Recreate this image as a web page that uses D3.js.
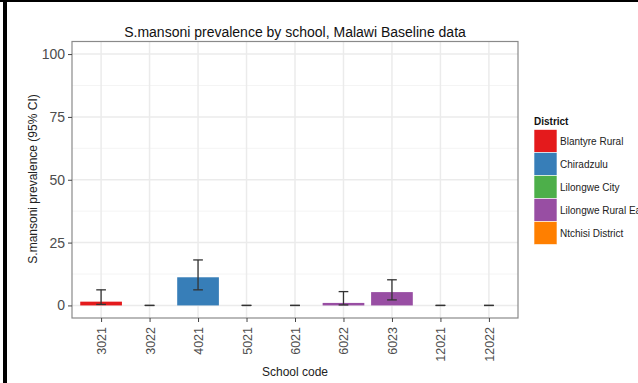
<!DOCTYPE html>
<html>
<head>
<meta charset="utf-8">
<script src="https://cdn.jsdelivr.net/npm/d3@7"></script>
<style>
  html, body { margin: 0; padding: 0; background: #fff; }
  svg { display: block; font-family: "Liberation Sans", Arial, sans-serif; }
</style>
</head>
<body>
<svg id="chart" width="638" height="383"></svg>
<script>
// School-level prevalence estimates with 95% confidence intervals
const schools   = ["3021", "3022", "4021", "5021", "6021", "6022", "6023", "12021", "12022"];
const district  = ["Blantyre Rural", "Blantyre Rural", "Chiradzulu", "Chiradzulu", "Lilongwe City",
                   "Lilongwe Rural East", "Lilongwe Rural East", "Ntchisi District", "Ntchisi District"];
const prevalence = [1.5, 0, 11.2, 0, 0, 1.0, 5.3, 0, 0];
const ciLower    = [0.4, 0, 6.2, 0, 0, 0.2, 2.2, 0, 0];
const ciUpper    = [6.2, 0, 18.1, 0, 0, 5.5, 10.2, 0, 0];

const districts = ["Blantyre Rural", "Chiradzulu", "Lilongwe City", "Lilongwe Rural East", "Ntchisi District"];
const palette   = ["#E41A1C", "#377EB8", "#4DAF4A", "#984EA3", "#FF7F00"];
const yTicks    = [0, 25, 50, 75, 100];
const yMinor    = [12.5, 37.5, 62.5, 87.5];

const svg = d3.select("#chart");

// outer frame (black rule along top and left)
svg.append("rect").attr("x", 0).attr("y", 0).attr("width", 638).attr("height", 2).attr("fill", "#000");
svg.append("rect").attr("x", 3).attr("y", 0).attr("width", 4).attr("height", 383).attr("fill", "#000");

const panel = { left: 72, top: 41.5, right: 518, bottom: 318 };

const y = d3.scaleLinear().domain([-5, 105]).range([panel.bottom, panel.top]);

// discrete axis with ggplot-style 0.6 expansion on both sides
const step = (panel.right - panel.left) / (schools.length - 1 + 1.2);
const x = d3.scalePoint().domain(schools)
  .range([panel.left + 0.6 * step, panel.right - 0.6 * step]);
const barW = step * 0.86;
const whisker = step * 0.2;

const color = d3.scaleOrdinal().domain(districts).range(palette);

// panel background and grid
const g = svg.append("g");
g.append("rect").attr("x", panel.left).attr("y", panel.top)
  .attr("width", panel.right - panel.left).attr("height", panel.bottom - panel.top)
  .attr("fill", "#fff");

g.selectAll(".minor").data(yMinor).enter().append("line")
  .attr("x1", panel.left).attr("x2", panel.right)
  .attr("y1", d => y(d)).attr("y2", d => y(d))
  .attr("stroke", "#F4F4F4").attr("stroke-width", 1);

g.selectAll(".hmajor").data(yTicks).enter().append("line")
  .attr("x1", panel.left).attr("x2", panel.right)
  .attr("y1", d => y(d)).attr("y2", d => y(d))
  .attr("stroke", "#EBEBEB").attr("stroke-width", 1.5);

g.selectAll(".vmajor").data(schools).enter().append("line")
  .attr("x1", d => x(d)).attr("x2", d => x(d))
  .attr("y1", panel.top).attr("y2", panel.bottom)
  .attr("stroke", "#EBEBEB").attr("stroke-width", 1.5);

// bars
const rows = schools.map((s, i) => ({ s, d: district[i], v: prevalence[i], lo: ciLower[i], hi: ciUpper[i] }));

g.selectAll(".bar").data(rows).enter().append("rect")
  .attr("x", d => x(d.s) - barW / 2)
  .attr("width", barW)
  .attr("y", d => y(Math.max(d.v, 0)))
  .attr("height", d => y(0) - y(d.v))
  .attr("fill", d => color(d.d));

// error bars
const eb = g.selectAll(".eb").data(rows).enter().append("g")
  .attr("stroke", "#333").attr("stroke-width", 1.3);
eb.append("line").attr("x1", d => x(d.s)).attr("x2", d => x(d.s))
  .attr("y1", d => y(d.lo)).attr("y2", d => y(d.hi));
eb.append("line").attr("x1", d => x(d.s) - whisker / 2).attr("x2", d => x(d.s) + whisker / 2)
  .attr("y1", d => y(d.hi)).attr("y2", d => y(d.hi));
eb.append("line").attr("x1", d => x(d.s) - whisker / 2).attr("x2", d => x(d.s) + whisker / 2)
  .attr("y1", d => y(d.lo)).attr("y2", d => y(d.lo));

// panel border
g.append("rect").attr("x", panel.left).attr("y", panel.top)
  .attr("width", panel.right - panel.left).attr("height", panel.bottom - panel.top)
  .attr("fill", "none").attr("stroke", "#8A8A8A").attr("stroke-width", 1.2);

// axes
const yAxis = svg.append("g").attr("transform", `translate(${panel.left},0)`)
  .call(d3.axisLeft(y).tickValues(yTicks).tickSize(4).tickPadding(3));
yAxis.select(".domain").remove();
yAxis.selectAll(".tick line").attr("stroke", "#444");
yAxis.selectAll(".tick text").attr("fill", "#4D4D4D")
  .style("font-size", "14px").style("font-family", "'Liberation Sans', Arial, sans-serif");

const xAxis = svg.append("g").attr("transform", `translate(0,${panel.bottom})`)
  .call(d3.axisBottom(x).tickSize(4).tickPadding(3));
xAxis.select(".domain").remove();
xAxis.selectAll(".tick line").attr("stroke", "#444");
xAxis.selectAll(".tick text")
  .attr("fill", "#4D4D4D")
  .style("font-size", "12.5px").style("font-family", "'Liberation Sans', Arial, sans-serif")
  .attr("text-anchor", "end")
  .attr("dy", null)
  .attr("y", 0)
  .attr("transform", "translate(4.5,9) rotate(-90)");

// titles
svg.append("text").attr("x", 295).attr("y", 37).attr("text-anchor", "middle")
  .attr("fill", "#111").style("font-size", "14px")
  .text("S.mansoni prevalence by school, Malawi Baseline data");

svg.append("text").attr("x", 295).attr("y", 376).attr("text-anchor", "middle")
  .attr("fill", "#222").style("font-size", "12px")
  .text("School code");

svg.append("text").attr("transform", "translate(37,179) rotate(-90)").attr("text-anchor", "middle")
  .attr("fill", "#222").style("font-size", "12px")
  .text("S.mansoni prevalence (95% CI)");

// legend
const lg = svg.append("g").attr("transform", "translate(534,0)");
lg.append("text").attr("x", 0).attr("y", 125).style("font-size", "10px").style("font-weight", "bold")
  .attr("fill", "#111").text("District");
const keyH = 23;
const item = lg.selectAll(".item").data(districts).enter().append("g")
  .attr("transform", (d, i) => `translate(0,${129.5 + i * keyH})`);
item.append("rect").attr("width", 23).attr("height", keyH).attr("fill", d => color(d))
  .attr("stroke", "#fff").attr("stroke-width", 0.6);
item.append("text").attr("x", 26).attr("y", keyH / 2 + 3.5)
  .style("font-size", "10px").attr("fill", "#222").text(d => d);
</script>
</body>
</html>
